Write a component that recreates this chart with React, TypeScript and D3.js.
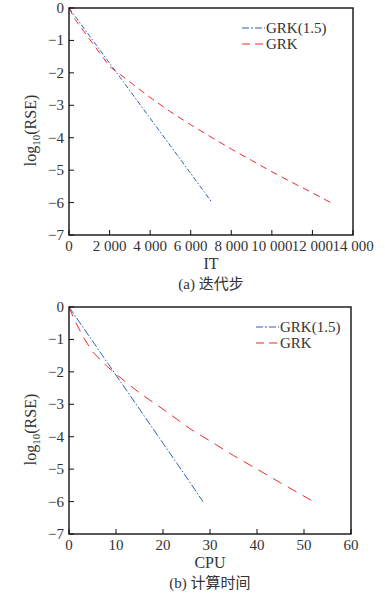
import React from "react";
import * as d3 from "d3";

// panel (a): iterations
const itTicks = [0, 2000, 4000, 6000, 8000, 10000, 12000, 14000];
const itGrk15 = [
  [0, 0], [1000, -0.85], [2000, -1.7], [3000, -2.55], [4000, -3.4],
  [5000, -4.25], [6000, -5.1], [7050, -6.0],
];
const itGrk = [
  [0, 0], [300, -0.35], [1000, -0.95], [2000, -1.8], [3000, -2.28],
  [4000, -2.76], [5000, -3.2], [6000, -3.6], [7000, -3.98], [8000, -4.35],
  [9000, -4.7], [10000, -5.05], [11000, -5.38], [12000, -5.7], [12900, -6.0],
];

// panel (b): CPU time
const cpuTicks = [0, 10, 20, 30, 40, 50, 60];
const cpuGrk15 = [
  [0, 0], [5, -1.05], [10, -2.1], [15, -3.15], [20, -4.2], [25, -5.25], [28.5, -6.0],
];
const cpuGrk = [
  [0, 0], [1, -0.35], [3, -0.92], [5, -1.38], [8, -1.82], [10, -2.07],
  [15, -2.65], [20, -3.15], [26, -3.78], [30, -4.13], [35, -4.58],
  [40, -5.0], [45, -5.42], [52, -6.0],
];

const yTicks = [0, -1, -2, -3, -4, -5, -6, -7];
const seriesNames = ["GRK(1.5)", "GRK"];

const SERIF = { fontFamily: '"Liberation Serif", "DejaVu Serif", serif' };
const CJK = { fontFamily: '"Noto Sans CJK SC", sans-serif' };
const TXT = "#333";
const BLUE = "#2f5fb3";
const RED = "#f0282d";

const fmtX = (v: number) => d3.format(",")(v).replace(/,/g, " ");
const fmtY = (v: number) => (v < 0 ? "\u2212" + Math.abs(v) : String(v));

type PanelProps = {
  top: number;
  right: number;
  xMax: number;
  xTicks: number[];
  blue: number[][];
  red: number[][];
  xLabel: string;
  caption: string;
  capPrefix: string;
  legendX: number;
  blueDash: string;
  redDash: string;
  xFmt: (v: number) => string;
};

function Panel(p: PanelProps) {
  const left = 69;
  const bottom = p.top + 227;
  const x = d3.scaleLinear().domain([0, p.xMax]).range([left, p.right]);
  const y = d3.scaleLinear().domain([-7, 0]).range([bottom, p.top]);
  const line = d3
    .line<number[]>()
    .x((d) => x(d[0]))
    .y((d) => y(d[1]));
  const midX = (left + p.right) / 2;
  const midY = (p.top + bottom) / 2;
  const ly = p.top + 20;
  return (
    <g style={SERIF} fontSize={15} fill={TXT}>
      <path d={line(p.blue) || ""} fill="none" stroke={BLUE} strokeWidth={1} strokeDasharray={p.blueDash} />
      <path d={line(p.red) || ""} fill="none" stroke={RED} strokeWidth={1} strokeDasharray={p.redDash} />
      <rect x={left} y={p.top} width={p.right - left} height={bottom - p.top} fill="none" stroke="#111" strokeWidth={1.4} />
      {p.xTicks.map((t) => (
        <g key={"x" + t}>
          <line x1={x(t)} x2={x(t)} y1={bottom} y2={bottom - 5} stroke="#111" strokeWidth={1} />
          <text x={x(t)} y={bottom + 16} textAnchor="middle" style={SERIF}>
            {p.xFmt(t)}
          </text>
        </g>
      ))}
      {yTicks.map((t) => (
        <g key={"y" + t}>
          <line x1={left} x2={left + 5} y1={y(t)} y2={y(t)} stroke="#111" strokeWidth={1} />
          <text x={left - 5} y={y(t) + 5} textAnchor="end" style={SERIF}>
            {fmtY(t)}
          </text>
        </g>
      ))}
      <text transform={`translate(36,${midY + 9}) rotate(-90)`} textAnchor="middle" fontSize={16} style={SERIF}>
        log
        <tspan fontSize={11} dy={4}>10</tspan>
        <tspan dy={-4}>(RSE)</tspan>
      </text>
      <text x={midX} y={bottom + 34} textAnchor="middle" fontSize={16} style={SERIF}>
        {p.xLabel}
      </text>
      <text x={midX} y={bottom + 54} textAnchor="middle">
        <tspan style={SERIF}>{p.capPrefix} </tspan>
        <tspan style={CJK}>{p.caption}</tspan>
      </text>
      {seriesNames.map((name, i) => (
        <g key={name}>
          <line
            x1={p.legendX}
            x2={p.legendX + 23}
            y1={ly + i * 16}
            y2={ly + i * 16}
            stroke={i === 0 ? BLUE : RED}
            strokeWidth={1}
            strokeDasharray={i === 0 ? "7,2,2,2" : "8,5"}
          />
          <text x={p.legendX + 24} y={ly + i * 16 + 5} style={SERIF}>
            {name}
          </text>
        </g>
      ))}
    </g>
  );
}

export default function App() {
  return (
    <svg width={385} height={598} style={{ position: "absolute", left: 0, top: 0, background: "#fff" }}>
      <Panel
        top={8}
        right={353}
        xMax={14000}
        xTicks={itTicks}
        blue={itGrk15}
        red={itGrk}
        xLabel="IT"
        capPrefix="(a)"
        caption="迭代步"
        legendX={242}
        blueDash="5,2,1.5,2"
        redDash="7,5"
        xFmt={fmtX}
      />
      <Panel
        top={307}
        right={351}
        xMax={60}
        xTicks={cpuTicks}
        blue={cpuGrk15}
        red={cpuGrk}
        xLabel="CPU"
        capPrefix="(b)"
        caption="计算时间"
        legendX={256}
        blueDash="8,2,1.5,2"
        redDash="10,7"
        xFmt={(v: number) => String(v)}
      />
    </svg>
  );
}
